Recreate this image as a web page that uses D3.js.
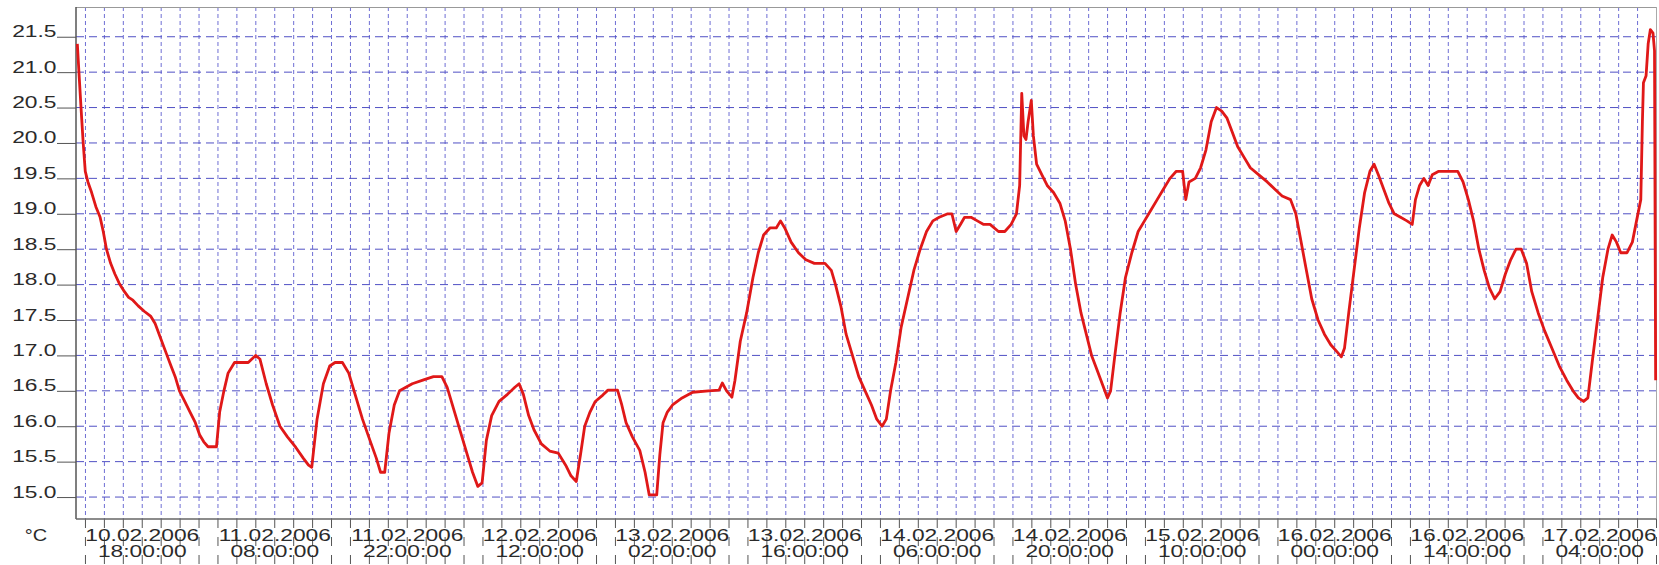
<!DOCTYPE html>
<html>
<head>
<meta charset="utf-8">
<script src="https://cdn.jsdelivr.net/npm/d3@7"></script>
<style>
  body { margin: 0; background: #fff; }
  svg { display: block; }
  text { font-family: 'Liberation Sans', Arial, sans-serif; fill: #2a2a2a; }
</style>
</head>
<body>
<svg id="chart"></svg>
<script>
// logger readings, offsets in hours from 10.02.2006 12:00
const startTime = new Date(2006, 1, 10, 12, 0)
const hours = [
	-0.86, -0.69, -0.47, -0.24, -0.02, 0.26, 0.65, 1.10, 1.55, 1.88, 2.22, 2.66, 3.11, 3.56, 4.12, 4.56, 5.01, 5.57, 6.24, 6.91,
	7.36, 7.92, 8.48, 9.04, 9.48, 9.93, 10.49, 11.05, 11.61, 12.06, 12.50, 12.95, 13.84, 14.18, 14.63, 15.07, 15.75, 17.20, 17.98, 18.43,
	19.10, 19.77, 20.55, 21.34, 22.23, 23.01, 23.57, 23.91, 24.47, 25.14, 25.81, 26.37, 27.15, 27.82, 28.49, 29.27, 30.06, 30.73, 31.18, 31.62,
	32.07, 32.63, 33.19, 34.53, 35.65, 36.77, 37.66, 38.22, 39.00, 39.67, 40.34, 40.90, 41.46, 41.91, 42.36, 42.92, 43.70, 44.59, 45.37, 45.82,
	46.27, 46.83, 47.39, 48.17, 49.06, 49.96, 50.74, 51.30, 51.86, 52.31, 52.75, 53.31, 53.87, 54.66, 55.21, 56.22, 56.67, 57.12, 57.79, 58.57,
	59.13, 59.57, 60.36, 60.69, 61.03, 61.48, 62.03, 63.04, 64.16, 65.84, 66.95, 67.29, 67.74, 68.30, 68.63, 69.19, 69.86, 70.53, 71.09, 71.65,
	72.32, 72.99, 73.44, 73.89, 74.56, 75.34, 76.12, 77.02, 78.14, 78.81, 79.25, 79.81, 80.37, 81.04, 81.71, 82.38, 83.05, 83.61, 84.17, 84.62,
	85.07, 85.63, 86.19, 86.86, 87.53, 88.20, 88.87, 89.54, 90.21, 91.11, 91.55, 92.00, 92.45, 92.89, 93.57, 94.24, 94.91, 95.58, 96.47, 97.14,
	97.81, 98.37, 98.71, 98.93, 99.16, 99.38, 99.60, 99.94, 100.16, 100.50, 101.06, 101.62, 102.29, 102.96, 103.52, 104.08, 104.63, 105.19, 105.75, 106.31,
	106.87, 107.43, 107.99, 108.32, 108.77, 109.33, 109.89, 110.56, 111.23, 111.90, 112.57, 113.24, 113.91, 114.59, 115.26, 115.93, 116.26, 116.60, 117.27, 117.83,
	118.39, 118.95, 119.51, 120.06, 120.62, 121.18, 121.74, 122.41, 123.08, 123.98, 124.87, 125.65, 126.44, 127.33, 127.89, 128.45, 129.01, 129.57, 130.24, 130.91,
	131.58, 132.25, 132.70, 133.03, 133.48, 134.04, 134.60, 135.16, 135.72, 136.16, 136.61, 137.17, 137.73, 138.29, 138.96, 139.63, 140.19, 140.53, 140.97, 141.42,
	141.87, 142.31, 142.99, 144.10, 145.00, 145.56, 146.12, 146.67, 147.23, 147.79, 148.35, 148.91, 149.47, 150.03, 150.59, 151.15, 151.71, 152.27, 152.82, 153.50,
	154.17, 154.95, 155.73, 156.51, 157.18, 157.74, 158.30, 158.75, 159.20, 159.76, 160.32, 160.87, 161.32, 161.77, 162.22, 162.89, 163.45, 163.89, 164.34, 164.51,
	164.62, 164.90, 165.12, 165.35, 165.63, 165.79, 165.91
]
const temps = [
	21.4, 21.0, 20.5, 20.0, 19.6, 19.45, 19.3, 19.1, 18.95, 18.75, 18.5, 18.3, 18.15, 18.02, 17.9, 17.82, 17.78, 17.7, 17.62, 17.55,
	17.45, 17.25, 17.05, 16.85, 16.7, 16.5, 16.35, 16.2, 16.05, 15.88, 15.78, 15.71, 15.71, 16.2, 16.5, 16.75, 16.9, 16.9, 17.0, 16.95,
	16.6, 16.3, 16.0, 15.85, 15.7, 15.55, 15.45, 15.42, 16.1, 16.6, 16.85, 16.9, 16.9, 16.75, 16.45, 16.1, 15.8, 15.55, 15.35, 15.35,
	15.9, 16.3, 16.5, 16.6, 16.65, 16.7, 16.7, 16.55, 16.2, 15.9, 15.6, 15.35, 15.15, 15.2, 15.8, 16.15, 16.35, 16.45, 16.55, 16.6,
	16.45, 16.15, 15.95, 15.75, 15.65, 15.62, 15.45, 15.3, 15.22, 15.6, 16.0, 16.2, 16.35, 16.44, 16.51, 16.51, 16.3, 16.05, 15.85, 15.66,
	15.35, 15.03, 15.03, 15.6, 16.05, 16.2, 16.3, 16.4, 16.48, 16.5, 16.51, 16.61, 16.5, 16.41, 16.65, 17.2, 17.6, 18.1, 18.45, 18.7,
	18.8, 18.8, 18.9, 18.8, 18.6, 18.45, 18.35, 18.3, 18.3, 18.2, 18.0, 17.7, 17.3, 17.0, 16.7, 16.5, 16.3, 16.1, 16.0, 16.1,
	16.5, 16.9, 17.4, 17.8, 18.2, 18.5, 18.75, 18.9, 18.95, 19.0, 19.0, 18.75, 18.85, 18.95, 18.95, 18.9, 18.85, 18.85, 18.75, 18.75,
	18.85, 19.0, 19.4, 20.7, 20.1, 20.05, 20.3, 20.6, 20.1, 19.7, 19.55, 19.4, 19.3, 19.15, 18.9, 18.5, 18.0, 17.6, 17.3, 17.0,
	16.8, 16.6, 16.4, 16.5, 17.0, 17.6, 18.1, 18.45, 18.75, 18.9, 19.05, 19.2, 19.35, 19.5, 19.6, 19.6, 19.2, 19.45, 19.5, 19.65,
	19.9, 20.3, 20.5, 20.45, 20.35, 20.15, 19.95, 19.8, 19.65, 19.55, 19.45, 19.35, 19.25, 19.2, 19.0, 18.6, 18.2, 17.8, 17.5, 17.3,
	17.15, 17.05, 16.98, 17.1, 17.6, 18.2, 18.8, 19.3, 19.6, 19.7, 19.55, 19.35, 19.15, 19.0, 18.95, 18.9, 18.85, 19.2, 19.4, 19.5,
	19.4, 19.55, 19.6, 19.6, 19.6, 19.45, 19.2, 18.9, 18.5, 18.2, 17.95, 17.8, 17.9, 18.15, 18.35, 18.5, 18.5, 18.3, 17.9, 17.6,
	17.35, 17.1, 16.85, 16.65, 16.5, 16.4, 16.35, 16.4, 16.9, 17.5, 18.1, 18.5, 18.7, 18.6, 18.45, 18.45, 18.6, 18.9, 19.2, 20.3,
	20.85, 20.95, 21.4, 21.6, 21.55, 21.3, 16.65
]
const yTicks = [15.0, 15.5, 16.0, 16.5, 17.0, 17.5, 18.0, 18.5, 19.0, 19.5, 20.0, 20.5, 21.0, 21.5]
const xLabelTimes = [
	'2006-02-10 18:00', '2006-02-11 08:00', '2006-02-11 22:00', '2006-02-12 12:00',
	'2006-02-13 02:00', '2006-02-13 16:00', '2006-02-14 06:00', '2006-02-14 20:00',
	'2006-02-15 10:00', '2006-02-16 00:00', '2006-02-16 14:00', '2006-02-17 04:00'
]
const unitLabel = '°C'

const outerWidth = 1659
const outerHeight = 565
const margin = {top: 7, right: 2.5, bottom: 46, left: 76}
const width = outerWidth - margin.left - margin.right
const height = outerHeight - margin.top - margin.bottom
const stretch = 'scale(1.38,1)'

const svg = d3.select('#chart')
	.attr('width', outerWidth)
	.attr('height', outerHeight)

const g = svg.append('g')
	.attr('transform', `translate(${margin.left},${margin.top})`)

const parseTime = d3.timeParse('%Y-%m-%d %H:%M')
const fmtDate = d3.timeFormat('%d.%m.%Y')
const fmtClock = d3.timeFormat('%H:%M:%S')

const xScale = d3.scaleTime()
	.domain([new Date(2006, 1, 10, 11), new Date(2006, 1, 17, 10)])
	.range([0, width])
const yScale = d3.scaleLinear()
	.domain([14.69, 21.92])
	.range([height, 0])

const points = hours.map((h, i) => ({
	time: new Date(startTime.getTime() + h * 3600e3),
	temp: temps[i]
}))

const gridTimes = d3.timeHour.every(2).range(xScale.domain()[0], new Date(+xScale.domain()[1] + 1))

// vertical grid, every 2 hours
g.append('g')
	.selectAll('line')
	.data(gridTimes)
	.join('line')
	.attr('x1', d => xScale(d)).attr('x2', d => xScale(d))
	.attr('y1', 0).attr('y2', height)
	.attr('stroke', '#6e6ed4')
	.attr('stroke-dasharray', '4,3')

// tick marks running down through the date labels
g.append('g')
	.selectAll('line')
	.data(gridTimes)
	.join('line')
	.attr('x1', d => xScale(d)).attr('x2', d => xScale(d))
	.attr('y1', height).attr('y2', height + 46)
	.attr('stroke', '#555')
	.attr('stroke-dasharray', '9,9')

// horizontal grid
g.append('g')
	.selectAll('line')
	.data(yTicks)
	.join('line')
	.attr('x1', 0).attr('x2', width)
	.attr('y1', d => yScale(d)).attr('y2', d => yScale(d))
	.attr('stroke', '#5050c4')
	.attr('stroke-dasharray', '8,5')

// frame
g.append('line')
	.attr('x1', 0).attr('x2', width).attr('y1', 0.5).attr('y2', 0.5)
	.attr('stroke', '#999')
g.append('line')
	.attr('x1', width).attr('x2', width).attr('y1', 0).attr('y2', height)
	.attr('stroke', '#aaa')

// y axis
const yAxis = d3.axisLeft(yScale)
	.tickValues(yTicks)
	.tickSize(19)
	.tickFormat(d3.format('.1f'))
const yAxisGroup = g.append('g')
	.attr('class', 'y axis')
	.call(yAxis)
yAxisGroup.select('.domain').remove()
yAxisGroup.selectAll('.tick line').attr('stroke', '#555')
yAxisGroup.selectAll('.tick text')
	.attr('x', 0)
	.attr('dy', 0)
	.attr('transform', `translate(-19.5,0) ${stretch}`)
	.attr('font-size', 16.5)
	.attr('font-family', null)
	.attr('fill', '#222')

// axis lines
g.append('line')
	.attr('x1', 0).attr('x2', 0).attr('y1', 0).attr('y2', height)
	.attr('stroke', '#555').attr('stroke-width', 1.5)
g.append('line')
	.attr('x1', 0).attr('x2', width).attr('y1', height).attr('y2', height)
	.attr('stroke', '#666').attr('stroke-width', 1.5)

// date labels, two rows
const xLabels = g.append('g')
	.selectAll('g')
	.data(xLabelTimes.map(parseTime))
	.join('g')
	.attr('transform', d => `translate(${xScale(d)},${height})`)
xLabels.append('text')
	.attr('transform', `translate(0,22) ${stretch}`)
	.attr('text-anchor', 'middle')
	.attr('font-size', 16.5)
	.attr('fill', '#222')
	.text(d => fmtDate(d))
xLabels.append('text')
	.attr('transform', `translate(0,38) ${stretch}`)
	.attr('text-anchor', 'middle')
	.attr('font-size', 16.5)
	.attr('fill', '#222')
	.text(d => fmtClock(d))

svg.append('text')
	.attr('transform', `translate(36,${margin.top + height + 22}) scale(1.25,1)`)
	.attr('text-anchor', 'middle')
	.attr('font-size', 16)
	.attr('fill', '#222')
	.text(unitLabel)

// temperature curve
const line = d3.line()
	.x(d => xScale(d.time))
	.y(d => yScale(d.temp))

g.append('path')
	.datum(points)
	.attr('fill', 'none')
	.attr('stroke', '#e01818')
	.attr('stroke-width', 2.8)
	.attr('stroke-linejoin', 'round')
	.attr('d', line)
</script>
</body>
</html>
